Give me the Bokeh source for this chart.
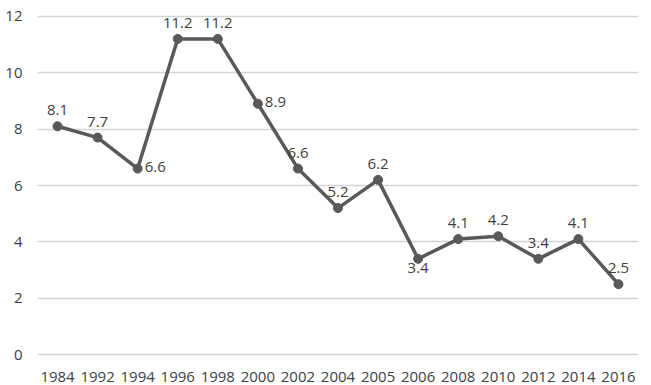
from bokeh.plotting import figure
from bokeh.models import ColumnDataSource, FactorRange, Range1d, SingleIntervalTicker
from bokeh.embed import file_html
from bokeh.resources import INLINE
from bokeh.core.properties import value

years = ["1984", "1992", "1994", "1996", "1998", "2000", "2002", "2004",
         "2005", "2006", "2008", "2010", "2012", "2014", "2016"]
values = [8.1, 7.7, 6.6, 11.2, 11.2, 8.9, 6.6, 5.2, 6.2, 3.4, 4.1, 4.2, 3.4, 4.1, 2.5]
labels = [f"{v:.1f}" for v in values]

# label placement (style): a=above, r=right, b=below
placement = ["a", "a", "r", "a", "a", "r", "a", "a", "a", "b", "a", "a", "a", "a", "a"]

LINE = "#595959"
TEXT = "#404040"
FONT = "Open Sans"

p = figure(x_range=FactorRange(*years), y_range=Range1d(-0.1, 12.1),
           width=651, height=385, output_backend="svg", toolbar_location=None,
           min_border_left=37, min_border_right=13, min_border_top=13, min_border_bottom=28)
p.outline_line_color = None
p.background_fill_color = "white"
p.border_fill_color = "white"

p.xgrid.grid_line_color = None
p.ygrid.grid_line_color = "#d4d4d4"
p.ygrid.grid_line_width = 1.6
p.yaxis.ticker = SingleIntervalTicker(interval=2)

for ax in (p.xaxis[0], p.yaxis[0]):
    ax.axis_line_color = None
    ax.major_tick_line_color = None
    ax.minor_tick_line_color = None
    ax.major_label_text_font = FONT
    ax.major_label_text_font_size = "15px"
    ax.major_label_text_color = TEXT
p.yaxis.major_label_standoff = 9
p.xaxis.major_label_standoff = 8

src = ColumnDataSource(dict(x=years, y=values, t=labels))
p.line("x", "y", source=src, line_color=LINE, line_width=3.5)
p.scatter("x", "y", source=src, size=9, fill_color=LINE, line_color=LINE)

for pos, (xo, yo, align, base) in {
    "a": (0, -11, "center", "bottom"),
    "r": (7, -2, "left", "middle"),
    "b": (0, 4, "center", "top"),
}.items():
    idx = [i for i, pl in enumerate(placement) if pl == pos]
    s = ColumnDataSource(dict(x=[years[i] for i in idx], y=[values[i] for i in idx],
                              t=[labels[i] for i in idx]))
    p.text("x", "y", text="t", source=s, x_offset=xo, y_offset=yo,
           text_align=align, text_baseline=base, text_font=value(FONT),
           text_font_size="15px", text_color=TEXT)

open("out.html", "w").write(file_html(p, INLINE))
